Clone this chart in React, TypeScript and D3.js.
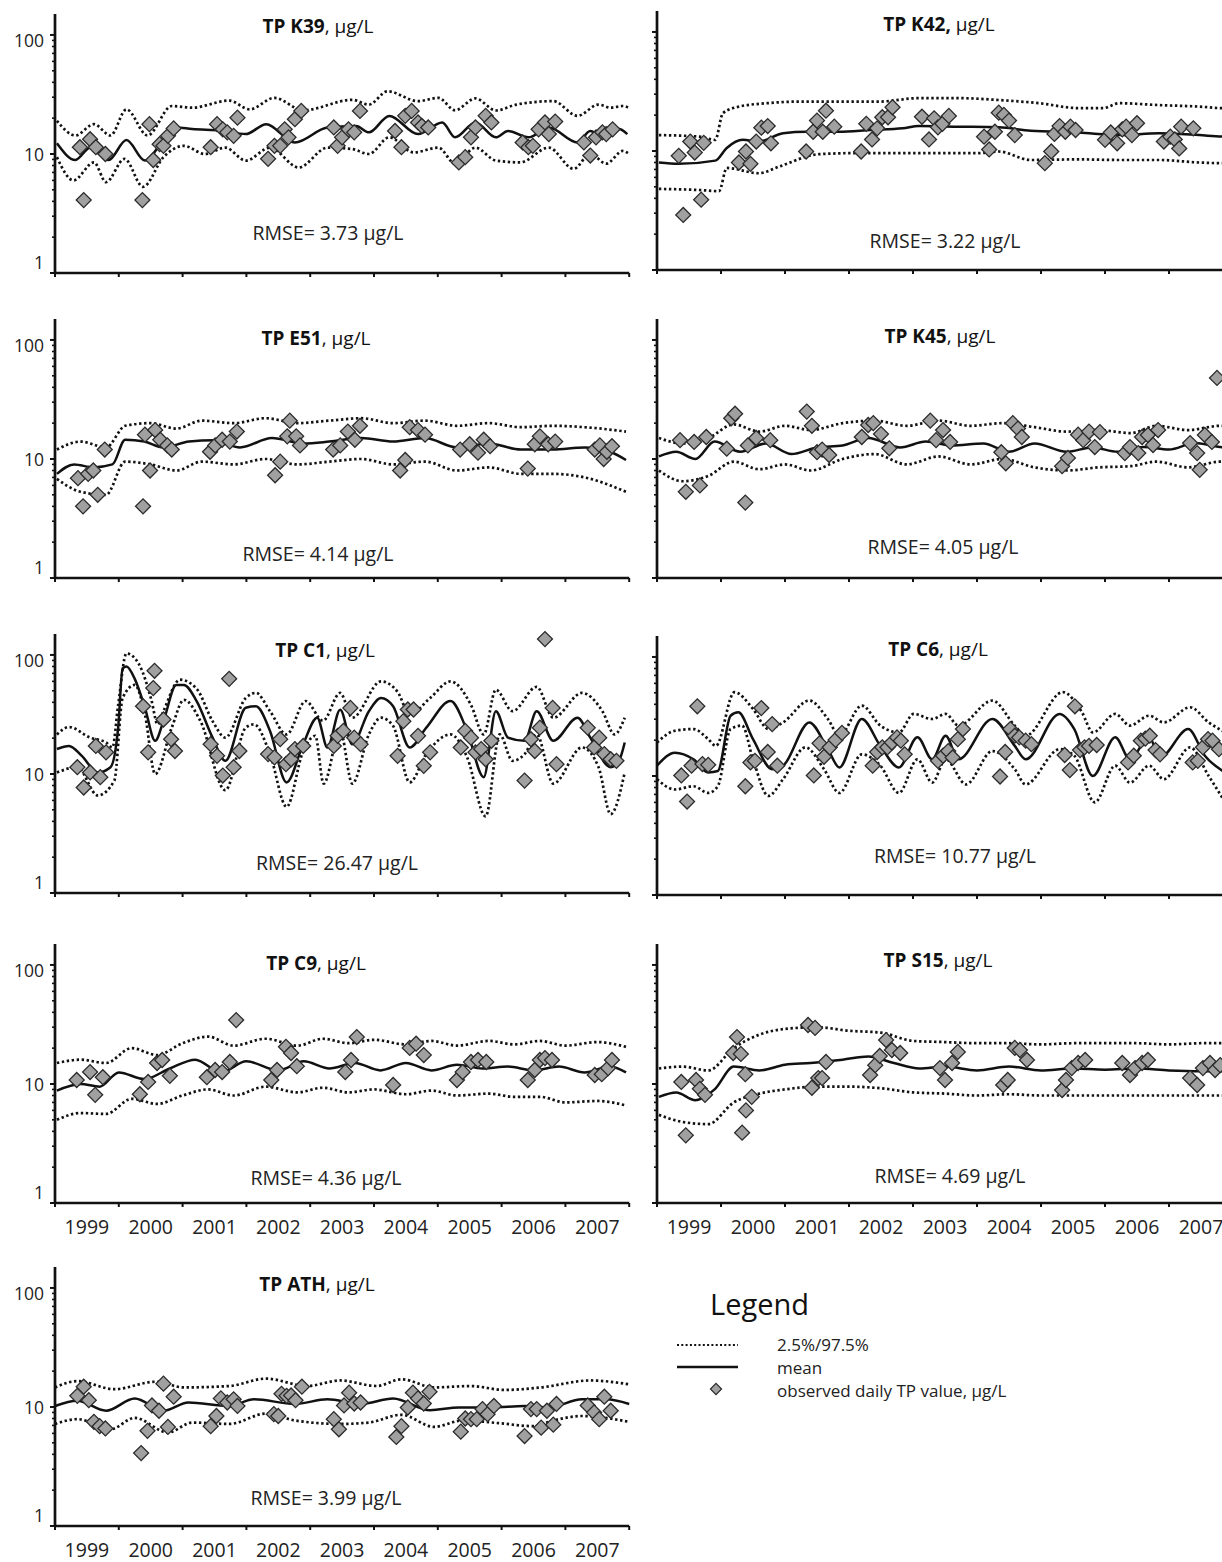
import { useEffect, useRef } from 'react'
import * as d3 from 'd3'

type Pt = [number, number]

const YEARS = [1999, 2000, 2001, 2002, 2003, 2004, 2005, 2006, 2007]
const Y_TICKS = [1, 10, 100]

// ---- TP K39 ----
const K39_MEAN: Pt[] = [[1999.03,12.3],[1999.32,8.9],[1999.55,11.3],[1999.84,8.9],[2000.12,13.1],[2000.41,8.8],[2000.70,13.1],[2000.90,16.7],[2001.15,16.2],[2001.60,15.8],[2001.99,14.7],[2002.31,17.8],[2002.76,12.5],[2003.27,16.7],[2003.72,17.2],[2003.92,15.2],[2004.24,20.9],[2004.69,14.7],[2005.07,18.4],[2005.27,13.8],[2005.59,18.4],[2005.91,13.8],[2006.10,15.6],[2006.42,13.8],[2006.74,16.7],[2007.19,12.5],[2007.39,15.6],[2007.58,13.8],[2007.84,16.2],[2007.97,14.7]]
const K39_UPPER: Pt[] = [[1999.03,19.0],[1999.32,14.3],[1999.61,17.8],[1999.87,14.3],[2000.12,23.7],[2000.45,14.3],[2000.83,25.3],[2001.15,24.5],[2001.73,28.1],[2002.05,23.7],[2002.44,29.6],[2002.89,23.3],[2003.66,28.5],[2003.92,26.0],[2004.21,33.6],[2004.69,27.8],[2005.01,29.6],[2005.27,23.3],[2005.59,29.3],[2005.91,23.2],[2006.23,26.0],[2006.81,27.8],[2007.19,20.9],[2007.52,26.0],[2007.71,24.5],[2007.90,25.3],[2007.99,24.5]]
const K39_LOWER: Pt[] = [[1999.03,9.4],[1999.29,6.0],[1999.61,8.5],[1999.80,5.8],[2000.09,9.1],[2000.38,5.3],[2000.70,9.4],[2001.02,11.7],[2001.35,10.0],[2001.67,11.3],[2001.99,8.8],[2002.37,11.3],[2002.82,7.7],[2003.27,11.3],[2003.66,11.0],[2003.92,10.0],[2004.24,13.8],[2004.62,10.3],[2005.01,11.3],[2005.27,8.3],[2005.59,11.3],[2005.91,8.8],[2006.29,8.5],[2006.74,11.3],[2007.13,7.5],[2007.39,10.0],[2007.64,8.3],[2007.90,10.6],[2008.0,10.0]]
const K39_OBS: Pt[] = [[1999.39,11.4],[1999.45,4.1],[1999.55,13.3],[1999.64,11.4],[1999.79,10.0],[2000.37,4.1],[2000.48,17.8],[2000.54,8.9],[2000.64,12.1],[2000.70,11.7],[2000.77,14.2],[2000.86,16.4],[2001.44,11.4],[2001.54,17.8],[2001.63,16.1],[2001.70,15.2],[2001.80,14.2],[2001.86,20.2],[2002.34,9.1],[2002.44,11.7],[2002.53,11.7],[2002.60,16.1],[2002.66,13.8],[2002.76,19.6],[2002.86,23.0],[2003.37,16.7],[2003.43,11.7],[2003.50,13.8],[2003.60,16.1],[2003.69,15.2],[2003.78,23.0],[2004.33,15.6],[2004.43,11.4],[2004.49,20.9],[2004.59,23.0],[2004.69,18.4],[2004.75,17.2],[2004.85,16.7],[2005.33,8.5],[2005.43,9.4],[2005.52,13.8],[2005.59,16.7],[2005.75,20.9],[2005.84,18.4],[2006.33,12.5],[2006.42,11.4],[2006.49,11.7],[2006.58,16.1],[2006.68,18.4],[2006.74,14.7],[2006.84,18.7],[2007.29,12.5],[2007.39,9.7],[2007.48,13.8],[2007.58,15.2],[2007.64,14.7],[2007.74,16.1]]

// ---- TP K42 ----
const K42_MEAN: Pt[] = [[1999.03,8.0],[1999.34,7.8],[1999.91,8.3],[2000.09,10.6],[2000.34,12.4],[2000.59,12.0],[2000.97,14.1],[2001.34,14.5],[2001.84,14.5],[2002.34,15.0],[2002.84,15.5],[2003.09,16.2],[2003.72,16.0],[2004.34,15.8],[2004.84,14.8],[2005.59,14.3],[2006.22,13.6],[2006.84,14.1],[2007.47,13.6],[2007.84,13.2],[2008.0,13.4]]
const K42_UPPER: Pt[] = [[1999.03,13.6],[1999.66,13.2],[1999.91,12.4],[2000.03,20.8],[2000.28,23.6],[2000.72,25.2],[2001.22,26.0],[2001.84,26.0],[2002.47,26.0],[2003.09,27.8],[2003.72,27.8],[2004.34,26.8],[2004.97,25.2],[2005.59,22.9],[2005.97,22.9],[2006.22,25.2],[2006.84,24.3],[2007.47,23.6],[2007.84,22.9],[2008.0,23.0]]
const K42_LOWER: Pt[] = [[1999.03,4.8],[1999.66,4.7],[1999.97,4.6],[2000.09,7.2],[2000.59,6.5],[2000.91,7.4],[2001.53,9.4],[2002.16,9.6],[2003.09,9.6],[2004.03,9.6],[2004.34,9.9],[2004.84,8.4],[2005.59,8.5],[2006.22,8.4],[2006.84,8.4],[2007.47,8.0],[2007.84,7.9],[2008.0,8.0]]
const K42_OBS: Pt[] = [[1999.34,9.1],[1999.41,2.9],[1999.52,12.0],[1999.59,9.7],[1999.69,3.9],[1999.73,11.7],[2000.28,8.0],[2000.39,9.9],[2000.46,7.8],[2000.55,12.0],[2000.63,15.7],[2000.73,16.2],[2000.78,11.6],[2001.33,9.9],[2001.44,14.5],[2001.50,18.0],[2001.59,14.5],[2001.64,21.8],[2001.77,16.0],[2002.19,9.9],[2002.27,16.9],[2002.36,12.5],[2002.44,15.5],[2002.52,19.2],[2002.61,19.2],[2002.68,23.3],[2003.14,19.4],[2003.25,12.5],[2003.33,18.8],[2003.39,15.8],[2003.46,16.9],[2003.56,19.7],[2004.11,13.2],[2004.19,10.3],[2004.28,14.5],[2004.34,21.0],[2004.42,20.1],[2004.50,18.0],[2004.59,13.6],[2005.06,7.9],[2005.16,9.9],[2005.21,13.9],[2005.29,16.2],[2005.38,14.5],[2005.46,16.0],[2005.54,15.0],[2006.00,12.4],[2006.09,14.3],[2006.19,11.6],[2006.27,15.2],[2006.33,16.0],[2006.42,13.6],[2006.50,17.1],[2006.92,12.0],[2007.02,13.2],[2007.09,12.5],[2007.16,10.5],[2007.19,16.0],[2007.38,15.5]]

// ---- TP E51 ----
const E51_MEAN: Pt[] = [[1999.03,7.5],[1999.3,9.0],[1999.6,8.5],[1999.9,9.0],[2000.1,14.5],[2000.4,14.0],[2000.7,12.5],[2001.1,14.0],[2001.5,14.4],[2001.9,12.5],[2002.4,15.0],[2002.9,13.5],[2003.3,14.0],[2003.8,15.0],[2004.3,14.0],[2004.8,15.0],[2005.3,12.5],[2005.8,13.5],[2006.3,12.0],[2006.8,12.0],[2007.3,12.5],[2007.7,11.5],[2007.95,9.8]]
const E51_UPPER: Pt[] = [[1999.03,12],[1999.4,14],[1999.8,12.5],[2000.1,19],[2000.5,20],[2000.9,18],[2001.3,21],[2001.8,20],[2002.3,22],[2002.8,20],[2003.3,21],[2003.8,22],[2004.3,20],[2004.8,21],[2005.3,19],[2005.8,20],[2006.3,18.5],[2006.8,19],[2007.3,18.5],[2007.95,17]]
const E51_LOWER: Pt[] = [[1999.03,6.8],[1999.4,5.3],[1999.8,5.0],[2000.1,9.5],[2000.5,9.0],[2000.9,8.0],[2001.3,9.5],[2001.8,9.0],[2002.3,10.0],[2002.8,9.0],[2003.3,9.5],[2003.8,10.0],[2004.3,9.0],[2004.8,9.5],[2005.3,8.0],[2005.8,8.5],[2006.3,7.5],[2006.8,7.5],[2007.3,7.0],[2007.95,5.3]]
const E51_OBS: Pt[] = [[1999.36,6.9],[1999.44,4.0],[1999.52,7.5],[1999.60,8.0],[1999.67,5.0],[1999.78,12.0],[2000.38,4.0],[2000.41,16.0],[2000.49,8.0],[2000.57,17.5],[2000.65,14.5],[2000.76,13.0],[2000.83,12.0],[2001.43,11.5],[2001.51,13.0],[2001.62,14.5],[2001.74,14.0],[2001.85,17.0],[2002.45,7.3],[2002.53,9.5],[2002.64,15.5],[2002.68,21.0],[2002.78,15.5],[2002.84,13.0],[2003.36,12.0],[2003.47,13.0],[2003.59,17.0],[2003.70,14.5],[2003.78,19.0],[2004.41,8.0],[2004.49,9.8],[2004.56,18.5],[2004.69,17.5],[2004.80,16.0],[2005.35,12.0],[2005.50,13.3],[2005.63,11.3],[2005.72,14.5],[2005.82,12.8],[2006.41,8.3],[2006.52,13.3],[2006.60,15.5],[2006.73,13.3],[2006.84,14.0],[2007.46,12.0],[2007.54,13.0],[2007.60,10.0],[2007.65,11.5],[2007.73,12.8]]

// ---- TP K45 ----
const K45_MEAN: Pt[] = [[1999.03,10.5],[1999.3,11.5],[1999.6,10],[1999.9,14],[2000.3,11.5],[2000.7,13.5],[2001.1,11],[2001.5,12.5],[2001.9,13],[2002.3,15],[2002.8,12.5],[2003.2,14],[2003.6,13],[2004.1,13.5],[2004.5,11.5],[2004.9,13.5],[2005.4,11.5],[2005.8,12.5],[2006.2,11.5],[2006.6,12.6],[2007.0,12],[2007.4,13.6],[2007.8,12.6],[2008.0,12.5]]
const K45_UPPER: Pt[] = [[1999.03,15],[1999.4,13.5],[1999.8,15],[2000.2,19.5],[2000.6,17],[2001.0,19],[2001.4,17.5],[2001.9,20],[2002.4,21],[2002.9,19],[2003.4,21],[2003.9,19],[2004.4,20],[2004.9,18.5],[2005.4,17],[2005.9,17.5],[2006.4,16.5],[2006.8,19],[2007.3,17.5],[2007.8,19],[2008.0,18.5]]
const K45_LOWER: Pt[] = [[1999.03,8],[1999.4,6.5],[1999.8,7.2],[2000.2,9.5],[2000.6,8.2],[2001.0,9],[2001.4,8],[2001.9,10],[2002.4,11],[2002.9,9],[2003.4,10.5],[2003.9,9],[2004.4,10],[2004.9,8.5],[2005.4,8],[2005.9,8.5],[2006.4,8.7],[2006.8,9.5],[2007.3,8.5],[2007.8,9.5],[2008.0,9.2]]
const K45_OBS: Pt[] = [[1999.36,14.4],[1999.45,5.3],[1999.58,13.9],[1999.67,6.0],[1999.77,15.3],[2000.09,12.2],[2000.16,22.0],[2000.22,24.0],[2000.38,4.3],[2000.42,13.0],[2000.55,15.0],[2000.77,14.4],[2001.34,25.0],[2001.42,19.0],[2001.50,11.4],[2001.58,12.0],[2001.69,10.8],[2002.20,15.3],[2002.30,19.3],[2002.38,20.0],[2002.50,16.2],[2002.63,12.3],[2003.27,21.0],[2003.36,14.4],[2003.47,17.5],[2003.58,13.9],[2004.38,11.4],[2004.45,9.2],[2004.56,20.0],[2004.64,18.0],[2004.70,15.3],[2005.33,8.7],[2005.42,10.2],[2005.58,16.0],[2005.66,14.4],[2005.75,17.0],[2005.84,12.6],[2005.92,16.8],[2006.31,11.2],[2006.39,12.6],[2006.52,11.2],[2006.58,15.3],[2006.67,15.9],[2006.75,13.1],[2006.83,17.5],[2007.33,13.6],[2007.44,11.2],[2007.48,8.1],[2007.56,15.9],[2007.67,13.9],[2007.75,48]]

// ---- TP C1 ----
const C1_MEAN: Pt[] = [[1999.03,16.2],[1999.22,17.2],[1999.42,14.2],[1999.67,10.3],[1999.87,11.4],[1999.99,24.5],[2000.06,77],[2000.12,80],[2000.25,63],[2000.41,36],[2000.57,19.0],[2000.70,27.8],[2000.90,56],[2001.02,56],[2001.22,41],[2001.47,20.2],[2001.67,12.9],[2001.99,36],[2002.15,37],[2002.37,23],[2002.63,8.5],[2002.89,17.8],[2003.11,29.7],[2003.27,16.7],[2003.47,34.7],[2003.66,17.8],[2003.92,33.7],[2004.11,43.5],[2004.30,37],[2004.56,16.7],[2004.82,24.5],[2005.20,41],[2005.46,23],[2005.72,9.4],[2005.91,33.7],[2006.10,20.2],[2006.36,19.0],[2006.55,33.7],[2006.81,19.0],[2007.19,29.7],[2007.39,20.2],[2007.71,11.4],[2007.84,12.9],[2007.93,18.4]]
const C1_UPPER: Pt[] = [[1999.03,21.5],[1999.22,24.8],[1999.55,20.2],[1999.80,18.4],[1999.90,16.7],[1999.99,38],[2000.12,103],[2000.32,83],[2000.51,42],[2000.61,26.1],[2000.70,33.7],[2000.96,62],[2001.22,52],[2001.47,27.8],[2001.67,20.2],[2001.99,43.5],[2002.15,48],[2002.37,33.7],[2002.63,21.5],[2002.93,41],[2003.20,28],[2003.47,48],[2003.66,29.7],[2004.11,60],[2004.37,49],[2004.56,31.6],[2004.88,43.5],[2005.20,60],[2005.52,38],[2005.72,21.5],[2005.91,51],[2006.17,33.7],[2006.55,54],[2006.81,29.7],[2007.26,48],[2007.58,33.7],[2007.77,21.5],[2007.93,29.7]]
const C1_LOWER: Pt[] = [[1999.03,10.3],[1999.35,11.4],[1999.67,6.6],[1999.93,8.8],[2000.06,43.5],[2000.25,56],[2000.41,31.6],[2000.57,10.0],[2000.83,24.5],[2001.02,42],[2001.28,27.8],[2001.67,7.3],[2001.99,24.5],[2002.12,26.1],[2002.37,14.7],[2002.63,5.3],[2002.89,15.6],[2003.08,20.9],[2003.21,8.3],[2003.47,23],[2003.66,8.3],[2003.92,21.5],[2004.11,29.7],[2004.30,25.3],[2004.56,8.5],[2004.82,14.7],[2005.20,21.5],[2005.46,13.8],[2005.75,4.4],[2005.97,21.5],[2006.17,12.9],[2006.36,14.7],[2006.55,21.5],[2006.81,8.3],[2007.26,16.7],[2007.52,11.4],[2007.71,4.6],[2007.93,10.3]]
const C1_OBS: Pt[] = [[1999.35,11.4],[1999.45,7.7],[1999.55,10.3],[1999.64,17.2],[1999.71,9.4],[1999.80,15.2],[2000.38,37.1],[2000.46,15.2],[2000.54,52.7],[2000.56,73.6],[2000.70,28.7],[2000.82,19.6],[2000.88,15.6],[2001.44,17.8],[2001.54,14.2],[2001.63,9.7],[2001.73,63],[2001.80,11.4],[2001.89,15.6],[2002.34,14.7],[2002.44,13.8],[2002.53,19.6],[2002.62,12.1],[2002.70,13.3],[2002.76,16.2],[2002.89,17.2],[2003.37,17.2],[2003.43,20.9],[2003.52,23.0],[2003.63,35.9],[2003.69,20.2],[2003.79,17.8],[2004.37,14.2],[2004.46,27.8],[2004.53,34.8],[2004.62,34.8],[2004.69,20.9],[2004.78,11.7],[2004.88,15.2],[2005.36,16.7],[2005.43,23.0],[2005.52,20.2],[2005.59,15.2],[2005.68,16.2],[2005.75,13.3],[2005.84,19.0],[2006.36,8.8],[2006.46,19.6],[2006.52,15.6],[2006.60,24.5],[2006.68,136],[2006.80,35.9],[2006.86,12.1],[2007.35,24.5],[2007.45,16.7],[2007.53,20.2],[2007.61,14.7],[2007.71,13.3],[2007.80,12.9]]

// ---- TP C6 ----
const C6_MEAN: Pt[] = [[1999.0,12.2],[1999.28,15.7],[1999.57,13.8],[1999.80,10.7],[1999.95,11.0],[2000.15,32.1],[2000.27,34.3],[2000.50,20.4],[2000.80,11.4],[2000.97,12.2],[2001.38,28.2],[2001.67,16.8],[2001.85,11.8],[2002.20,30.1],[2002.49,17.9],[2002.78,11.8],[2003.07,21.2],[2003.30,13.8],[2003.51,21.8],[2003.71,13.8],[2004.24,30.1],[2004.59,17.9],[2004.76,13.8],[2005.29,33.2],[2005.52,24.8],[2005.81,10.0],[2006.16,21.2],[2006.39,13.8],[2006.69,21.2],[2006.86,14.3],[2007.30,24.8],[2007.56,14.8],[2007.88,10.7]]
const C6_UPPER: Pt[] = [[1999.0,19.1],[1999.28,24.0],[1999.57,24.8],[1999.80,20.4],[1999.92,17.9],[2000.21,50.6],[2000.50,36.6],[2000.74,24.8],[2000.97,28.2],[2001.38,43.0],[2001.67,30.1],[2001.85,21.8],[2002.20,39.0],[2002.49,26.5],[2002.78,23.2],[2003.01,33.2],[2003.30,30.1],[2003.51,33.2],[2003.71,26.5],[2004.24,43.0],[2004.59,26.5],[2004.76,21.8],[2005.34,50.6],[2005.64,34.3],[2005.81,23.2],[2006.16,33.2],[2006.39,26.5],[2006.69,32.1],[2006.92,28.2],[2007.33,37.8],[2007.62,28.2],[2007.88,23.2]]
const C6_LOWER: Pt[] = [[1999.0,9.4],[1999.28,7.7],[1999.57,8.2],[1999.80,7.2],[1999.95,8.2],[2000.15,24.8],[2000.33,26.5],[2000.50,13.8],[2000.74,6.8],[2000.97,9.4],[2001.32,17.4],[2001.61,11.4],[2001.85,7.2],[2002.20,15.2],[2002.49,12.2],[2002.78,7.2],[2003.07,13.8],[2003.30,8.8],[2003.51,13.8],[2003.83,8.5],[2004.24,16.2],[2004.59,11.4],[2004.76,8.5],[2005.29,16.8],[2005.52,14.8],[2005.84,6.0],[2006.16,12.2],[2006.39,8.8],[2006.69,12.2],[2006.92,9.4],[2007.33,17.4],[2007.62,10.0],[2007.88,6.0]]
const C6_OBS: Pt[] = [[1999.38,10.1],[1999.47,6.1],[1999.54,12.2],[1999.63,38.5],[1999.71,12.6],[1999.80,12.4],[2000.38,8.2],[2000.46,13.0],[2000.53,13.4],[2000.63,37.2],[2000.73,15.9],[2000.80,27.3],[2000.88,12.2],[2001.45,10.1],[2001.54,18.8],[2001.61,14.5],[2001.70,17.4],[2001.79,20.1],[2001.89,23.0],[2002.37,12.2],[2002.44,15.9],[2002.52,17.4],[2002.60,17.4],[2002.67,19.1],[2002.75,21.1],[2002.81,19.8],[2002.87,15.2],[2003.39,13.4],[2003.47,14.8],[2003.55,16.2],[2003.62,14.3],[2003.70,20.4],[2003.78,24.8],[2004.36,9.9],[2004.44,15.9],[2004.52,24.8],[2004.59,21.8],[2004.66,21.1],[2004.76,19.8],[2004.85,18.5],[2005.37,15.0],[2005.45,11.2],[2005.53,38.5],[2005.61,16.5],[2005.68,17.4],[2005.75,17.9],[2005.87,18.2],[2006.36,13.0],[2006.45,14.8],[2006.56,19.8],[2006.63,20.6],[2006.70,21.8],[2006.79,16.5],[2006.86,15.2],[2007.37,13.0],[2007.45,13.4],[2007.53,17.4],[2007.61,20.4],[2007.68,19.8],[2007.78,16.8]]

// ---- TP C9 ----
const C9_MEAN: Pt[] = [[1999.03,8.8],[1999.4,10],[1999.7,9.5],[2000.0,12.5],[2000.4,11],[2000.8,13.5],[2001.2,16],[2001.6,12.5],[2002.0,15.5],[2002.5,13],[2002.9,15.5],[2003.3,13.5],[2003.7,15],[2004.1,13],[2004.5,15],[2004.9,13],[2005.3,14.5],[2005.7,13.5],[2006.1,14],[2006.5,13],[2006.9,14],[2007.3,12.5],[2007.7,14],[2007.95,12.5]]
const C9_UPPER: Pt[] = [[1999.03,15],[1999.4,16],[1999.8,15],[2000.2,20],[2000.6,17.5],[2001.0,22],[2001.4,25],[2001.8,21],[2002.3,24],[2002.8,21],[2003.2,24],[2003.6,22],[2004.0,23.5],[2004.5,21.5],[2004.9,23],[2005.3,21],[2005.8,23],[2006.2,21.5],[2006.6,23],[2007.0,21],[2007.5,22.5],[2007.95,20.5]]
const C9_LOWER: Pt[] = [[1999.03,5.0],[1999.4,5.7],[1999.8,5.6],[2000.2,7.5],[2000.6,6.8],[2001.0,8],[2001.4,9],[2001.8,8],[2002.3,9.5],[2002.8,8.5],[2003.2,9.3],[2003.6,8.5],[2004.0,9],[2004.5,8.2],[2004.9,8.8],[2005.3,8],[2005.8,8.3],[2006.2,7.8],[2006.6,7.8],[2007.0,7.0],[2007.5,7.2],[2007.95,6.6]]
const C9_OBS: Pt[] = [[1999.34,10.8],[1999.55,12.6],[1999.63,8.1],[1999.75,11.4],[2000.33,8.2],[2000.46,10.4],[2000.60,15.0],[2000.68,15.9],[2000.80,11.7],[2001.38,11.4],[2001.51,13.1],[2001.62,12.6],[2001.74,15.3],[2001.84,34.4],[2002.39,10.8],[2002.48,13.1],[2002.62,20.5],[2002.70,18.2],[2002.79,14.1],[2003.55,12.6],[2003.64,15.9],[2003.73,24.8],[2004.30,9.8],[2004.56,20.1],[2004.66,21.8],[2004.78,17.5],[2005.30,10.8],[2005.39,12.6],[2005.52,15.3],[2005.63,15.9],[2005.76,15.3],[2006.41,10.8],[2006.52,13.1],[2006.60,15.9],[2006.68,16.5],[2006.79,15.9],[2007.46,11.9],[2007.57,12.1],[2007.67,13.6],[2007.73,15.9]]

// ---- TP S15 ----
const S15_MEAN: Pt[] = [[1999.03,7.8],[1999.3,8.5],[1999.6,7.3],[1999.9,9],[2000.2,14],[2000.6,13],[2001.0,14.5],[2001.4,15],[2001.9,16],[2002.3,17],[2002.7,15],[2003.1,13.5],[2003.5,14],[2004.0,13],[2004.5,14],[2005.0,13],[2005.5,13.5],[2006.0,13.2],[2006.5,13.5],[2007.0,13],[2007.5,12.8],[2008.0,12.8]]
const S15_UPPER: Pt[] = [[1999.03,13.5],[1999.4,14],[1999.8,13],[2000.2,20],[2000.6,26],[2001.0,29],[2001.5,30],[2002.0,28],[2002.5,27],[2003.0,23],[2003.5,22.5],[2004.0,22],[2004.5,22],[2005.0,21.5],[2005.5,22],[2006.0,22],[2006.5,22],[2007.0,21.5],[2007.5,22],[2008.0,22]]
const S15_LOWER: Pt[] = [[1999.03,5.5],[1999.4,4.8],[1999.8,4.6],[2000.2,7],[2000.6,8.3],[2001.0,9],[2001.5,9.5],[2002.0,9.5],[2002.5,9.2],[2003.0,8.5],[2003.5,8.3],[2004.0,8],[2004.5,8.2],[2005.0,8],[2005.5,8],[2006.0,8],[2006.5,8],[2007.0,8],[2007.5,8],[2008.0,8]]
const S15_OBS: Pt[] = [[1999.38,10.4],[1999.45,3.7],[1999.61,10.8],[1999.67,9.1],[1999.75,8.1],[2000.19,18.2],[2000.25,24.8],[2000.31,17.9],[2000.38,12.1],[2000.33,3.9],[2000.39,6.0],[2000.48,7.8],[2001.36,31.3],[2001.47,29.6],[2001.42,9.3],[2001.52,11.2],[2001.58,11.2],[2001.64,15.3],[2002.33,11.9],[2002.41,14.4],[2002.48,17.2],[2002.58,23.4],[2002.67,19.3],[2002.80,18.2],[2003.42,13.6],[2003.50,10.8],[2003.61,15.0],[2003.70,18.6],[2004.41,9.8],[2004.48,10.8],[2004.59,20.1],[2004.67,19.3],[2004.78,15.9],[2005.33,8.9],[2005.39,10.8],[2005.48,13.6],[2005.58,15.0],[2005.69,15.9],[2006.27,15.0],[2006.39,11.9],[2006.47,13.6],[2006.58,15.0],[2006.67,15.9],[2007.33,11.2],[2007.44,9.8],[2007.53,13.6],[2007.64,15.0],[2007.72,13.1],[2007.80,14.4]]

// ---- TP ATH ----
const ATH_MEAN: Pt[] = [[1999.0,10.2],[1999.35,11.3],[1999.80,9.3],[2000.25,11.8],[2000.70,9.3],[2001.09,10.9],[2001.73,10.2],[2002.12,11.6],[2002.76,10.6],[2003.27,11.6],[2003.79,10.6],[2004.30,11.8],[2004.88,9.4],[2005.33,9.9],[2005.84,9.9],[2006.36,10.2],[2006.74,9.9],[2007.26,11.6],[2007.64,11.6],[2008.0,10.6]]
const ATH_UPPER: Pt[] = [[1999.0,14.6],[1999.35,16.5],[1999.93,14.1],[2000.57,16.3],[2001.02,14.6],[2001.73,15.0],[2002.31,17.3],[2002.95,15.0],[2003.47,16.7],[2004.04,15.0],[2004.43,17.1],[2004.94,14.6],[2005.52,15.0],[2006.04,13.9],[2006.62,14.6],[2007.39,16.7],[2008.0,15.5]]
const ATH_LOWER: Pt[] = [[1999.0,7.2],[1999.35,7.9],[1999.87,6.5],[2000.25,8.1],[2000.77,6.1],[2001.15,7.4],[2001.73,7.2],[2002.31,8.8],[2002.76,7.7],[2003.47,7.2],[2003.92,7.4],[2004.43,8.6],[2004.94,6.8],[2005.39,7.7],[2005.97,7.3],[2006.49,6.9],[2006.81,7.7],[2007.26,8.4],[2008.0,7.5]]
const ATH_OBS: Pt[] = [[1999.35,12.4],[1999.45,14.8],[1999.53,11.4],[1999.61,7.5],[1999.70,6.9],[1999.79,6.6],[2000.35,4.1],[2000.45,6.3],[2000.52,10.3],[2000.63,9.3],[2000.70,15.7],[2000.77,6.8],[2000.86,12.2],[2001.44,6.9],[2001.53,8.4],[2001.60,11.8],[2001.70,10.9],[2001.80,11.6],[2001.86,10.2],[2002.43,8.7],[2002.50,8.4],[2002.55,12.9],[2002.63,12.4],[2002.70,12.5],[2002.77,11.4],[2002.87,14.8],[2003.37,7.9],[2003.45,6.5],[2003.53,10.3],[2003.61,13.2],[2003.69,10.7],[2003.79,10.9],[2004.35,5.6],[2004.43,6.9],[2004.53,9.9],[2004.61,13.2],[2004.69,11.8],[2004.78,10.7],[2004.87,13.4],[2005.36,6.2],[2005.43,8.0],[2005.52,7.9],[2005.61,7.9],[2005.70,9.6],[2005.78,8.7],[2005.88,10.2],[2006.36,5.7],[2006.46,9.6],[2006.55,9.6],[2006.62,6.7],[2006.71,9.3],[2006.81,7.1],[2006.86,10.6],[2007.35,10.3],[2007.45,9.0],[2007.53,7.9],[2007.61,12.2],[2007.71,9.3]]

const COL_X = [55, 657]
const YEAR_W = [63.8, 64]
const PANEL_H = 259
const FONT = '"Open Sans", "Noto Sans", sans-serif'

const PANELS = [
  { bold: 'TP K39', rest: ', μg/L', rmse: '3.73', col: 0, bottom: 273, titleX: 318, titleDy: -247, rmseX: 328, rmseDy: -41, years: false, yLabels: true, mean: K39_MEAN, upper: K39_UPPER, lower: K39_LOWER, obs: K39_OBS },
  { bold: 'TP K42,', rest: ' μg/L', rmse: '3.22', col: 1, bottom: 270, titleX: 939, titleDy: -246, rmseX: 945, rmseDy: -30, years: false, yLabels: false, mean: K42_MEAN, upper: K42_UPPER, lower: K42_LOWER, obs: K42_OBS },
  { bold: 'TP E51', rest: ', μg/L', rmse: '4.14', col: 0, bottom: 578, titleX: 316, titleDy: -240, rmseX: 318, rmseDy: -25, years: false, yLabels: true, mean: E51_MEAN, upper: E51_UPPER, lower: E51_LOWER, obs: E51_OBS },
  { bold: 'TP K45', rest: ', μg/L', rmse: '4.05', col: 1, bottom: 578, titleX: 940, titleDy: -242, rmseX: 943, rmseDy: -32, years: false, yLabels: false, mean: K45_MEAN, upper: K45_UPPER, lower: K45_LOWER, obs: K45_OBS },
  { bold: 'TP C1', rest: ', μg/L', rmse: '26.47', col: 0, bottom: 893, titleX: 325, titleDy: -243, rmseX: 337, rmseDy: -31, years: false, yLabels: true, mean: C1_MEAN, upper: C1_UPPER, lower: C1_LOWER, obs: C1_OBS },
  { bold: 'TP C6', rest: ', μg/L', rmse: '10.77', col: 1, bottom: 895, titleX: 938, titleDy: -246, rmseX: 955, rmseDy: -40, years: false, yLabels: false, mean: C6_MEAN, upper: C6_UPPER, lower: C6_LOWER, obs: C6_OBS },
  { bold: 'TP C9', rest: ', μg/L', rmse: '4.36', col: 0, bottom: 1203, titleX: 316, titleDy: -240, rmseX: 326, rmseDy: -26, years: true, yLabels: true, mean: C9_MEAN, upper: C9_UPPER, lower: C9_LOWER, obs: C9_OBS },
  { bold: 'TP S15', rest: ', μg/L', rmse: '4.69', col: 1, bottom: 1203, titleX: 938, titleDy: -243, rmseX: 950, rmseDy: -28, years: true, yLabels: false, mean: S15_MEAN, upper: S15_UPPER, lower: S15_LOWER, obs: S15_OBS },
  { bold: 'TP ATH', rest: ', μg/L', rmse: '3.99', col: 0, bottom: 1526, titleX: 317, titleDy: -242, rmseX: 326, rmseDy: -29, years: true, yLabels: true, mean: ATH_MEAN, upper: ATH_UPPER, lower: ATH_LOWER, obs: ATH_OBS },
]

const LABEL_DY: Record<number, number> = { 1: -11, 10: 0, 100: 5 }

export default function App() {
  const svgRef = useRef<SVGSVGElement | null>(null)

  useEffect(() => {
    if (!svgRef.current) return
    const svg = d3.select(svgRef.current)
    svg.selectAll('*').remove()

    const diamond = d3.symbol(d3.symbolSquare, 112)()
    const smallDiamond = d3.symbol(d3.symbolSquare, 62)()

    PANELS.forEach(p => {
      const x0 = COL_X[p.col]
      const x = d3.scaleLinear().domain([1999, 2008]).range([x0, x0 + 9 * YEAR_W[p.col]])
      const y = d3.scaleLog().domain([1, 150]).range([p.bottom, p.bottom - PANEL_H])
      const g = svg.append('g')

      const line = d3.line<Pt>()
        .x(d => x(d[0]))
        .y(d => y(d[1]))
        .curve(d3.curveMonotoneX)

      // 2.5% / 97.5% bands
      ;[p.upper, p.lower].forEach(arr => {
        g.append('path')
          .attr('d', line(arr))
          .attr('fill', 'none')
          .attr('stroke', '#111')
          .attr('stroke-width', 2.7)
          .attr('stroke-dasharray', '2.4 2.6')
      })

      // mean
      g.append('path')
        .attr('d', line(p.mean))
        .attr('fill', 'none')
        .attr('stroke', '#111')
        .attr('stroke-width', 2.5)

      // observed values
      g.selectAll('.obs')
        .data(p.obs)
        .join('path')
        .attr('class', 'obs')
        .attr('d', diamond)
        .attr('transform', d => `translate(${x(d[0])},${y(d[1])}) rotate(45)`)
        .attr('fill', '#a0a0a0')
        .attr('stroke', '#2b2b2b')
        .attr('stroke-width', 1.3)

      // y axis
      g.append('line')
        .attr('x1', x0).attr('x2', x0)
        .attr('y1', p.bottom + 1).attr('y2', p.bottom - PANEL_H)
        .attr('stroke', '#111').attr('stroke-width', 2.7)

      Y_TICKS.forEach(v => {
        g.append('line')
          .attr('x1', x0 - 5).attr('x2', x0)
          .attr('y1', y(v)).attr('y2', y(v))
          .attr('stroke', '#111').attr('stroke-width', 2)
        for (let k = 2; k <= 9; k++) {
          const mv = k * v
          if (mv > 150) break
          g.append('line')
            .attr('x1', x0 - 3).attr('x2', x0)
            .attr('y1', y(mv)).attr('y2', y(mv))
            .attr('stroke', '#111').attr('stroke-width', 1.6)
        }
        if (p.yLabels) {
          g.append('text')
            .attr('x', x0 - 11)
            .attr('y', y(v) + LABEL_DY[v])
            .attr('text-anchor', 'end')
            .attr('dominant-baseline', 'central')
            .attr('font-family', FONT)
            .attr('font-size', 17.5)
            .attr('fill', '#222')
            .text(v)
        }
      })

      // x axis
      g.append('line')
        .attr('x1', x0 - 1).attr('x2', x(2008))
        .attr('y1', p.bottom).attr('y2', p.bottom)
        .attr('stroke', '#111').attr('stroke-width', 2.7)

      ;[...YEARS, 2008].forEach(yr => {
        g.append('line')
          .attr('x1', x(yr)).attr('x2', x(yr))
          .attr('y1', p.bottom).attr('y2', p.bottom + 4)
          .attr('stroke', '#111').attr('stroke-width', 2)
      })

      if (p.years) {
        YEARS.forEach(yr => {
          g.append('text')
            .attr('x', x(yr + 0.5))
            .attr('y', p.bottom + 23)
            .attr('text-anchor', 'middle')
            .attr('dominant-baseline', 'central')
            .attr('font-family', FONT)
            .attr('font-size', 19.5)
            .attr('fill', '#222')
            .text(yr)
        })
      }

      // title
      const title = g.append('text')
        .attr('x', p.titleX)
        .attr('y', p.bottom + p.titleDy)
        .attr('text-anchor', 'middle')
        .attr('dominant-baseline', 'central')
        .attr('font-family', FONT)
        .attr('font-size', 19)
        .attr('fill', '#111')
      title.append('tspan').attr('font-weight', 'bold').text(p.bold)
      title.append('tspan').text(p.rest)

      // RMSE
      g.append('text')
        .attr('x', p.rmseX)
        .attr('y', p.bottom + p.rmseDy)
        .attr('text-anchor', 'middle')
        .attr('dominant-baseline', 'central')
        .attr('font-family', FONT)
        .attr('font-size', 19.5)
        .attr('fill', '#222')
        .text(`RMSE= ${p.rmse} μg/L`)
    })

    // legend
    const lg = svg.append('g')
    lg.append('text')
      .attr('x', 710).attr('y', 1303)
      .attr('dominant-baseline', 'central')
      .attr('font-family', FONT).attr('font-size', 29)
      .attr('fill', '#111')
      .text('Legend')

    lg.append('line')
      .attr('x1', 677).attr('x2', 738).attr('y1', 1345).attr('y2', 1345)
      .attr('stroke', '#111').attr('stroke-width', 2.2).attr('stroke-dasharray', '2 2.3')
    lg.append('line')
      .attr('x1', 677).attr('x2', 738).attr('y1', 1367).attr('y2', 1367)
      .attr('stroke', '#111').attr('stroke-width', 2.4)
    lg.append('path')
      .attr('d', smallDiamond)
      .attr('transform', 'translate(716,1389) rotate(45)')
      .attr('fill', '#a0a0a0').attr('stroke', '#2b2b2b').attr('stroke-width', 1.2)

    const entries: [string, number][] = [['2.5%/97.5%', 1344], ['mean', 1367], ['observed daily TP value, μg/L', 1390]]
    entries.forEach(([t, ty]) => {
      lg.append('text')
        .attr('x', 777).attr('y', ty)
        .attr('dominant-baseline', 'central')
        .attr('font-family', FONT).attr('font-size', 17)
        .attr('fill', '#222')
        .text(t)
    })
  }, [])

  return (
    <svg
      ref={svgRef}
      width={1222}
      height={1562}
      style={{ position: 'absolute', left: 0, top: 0, background: '#fff' }}
    />
  )
}
